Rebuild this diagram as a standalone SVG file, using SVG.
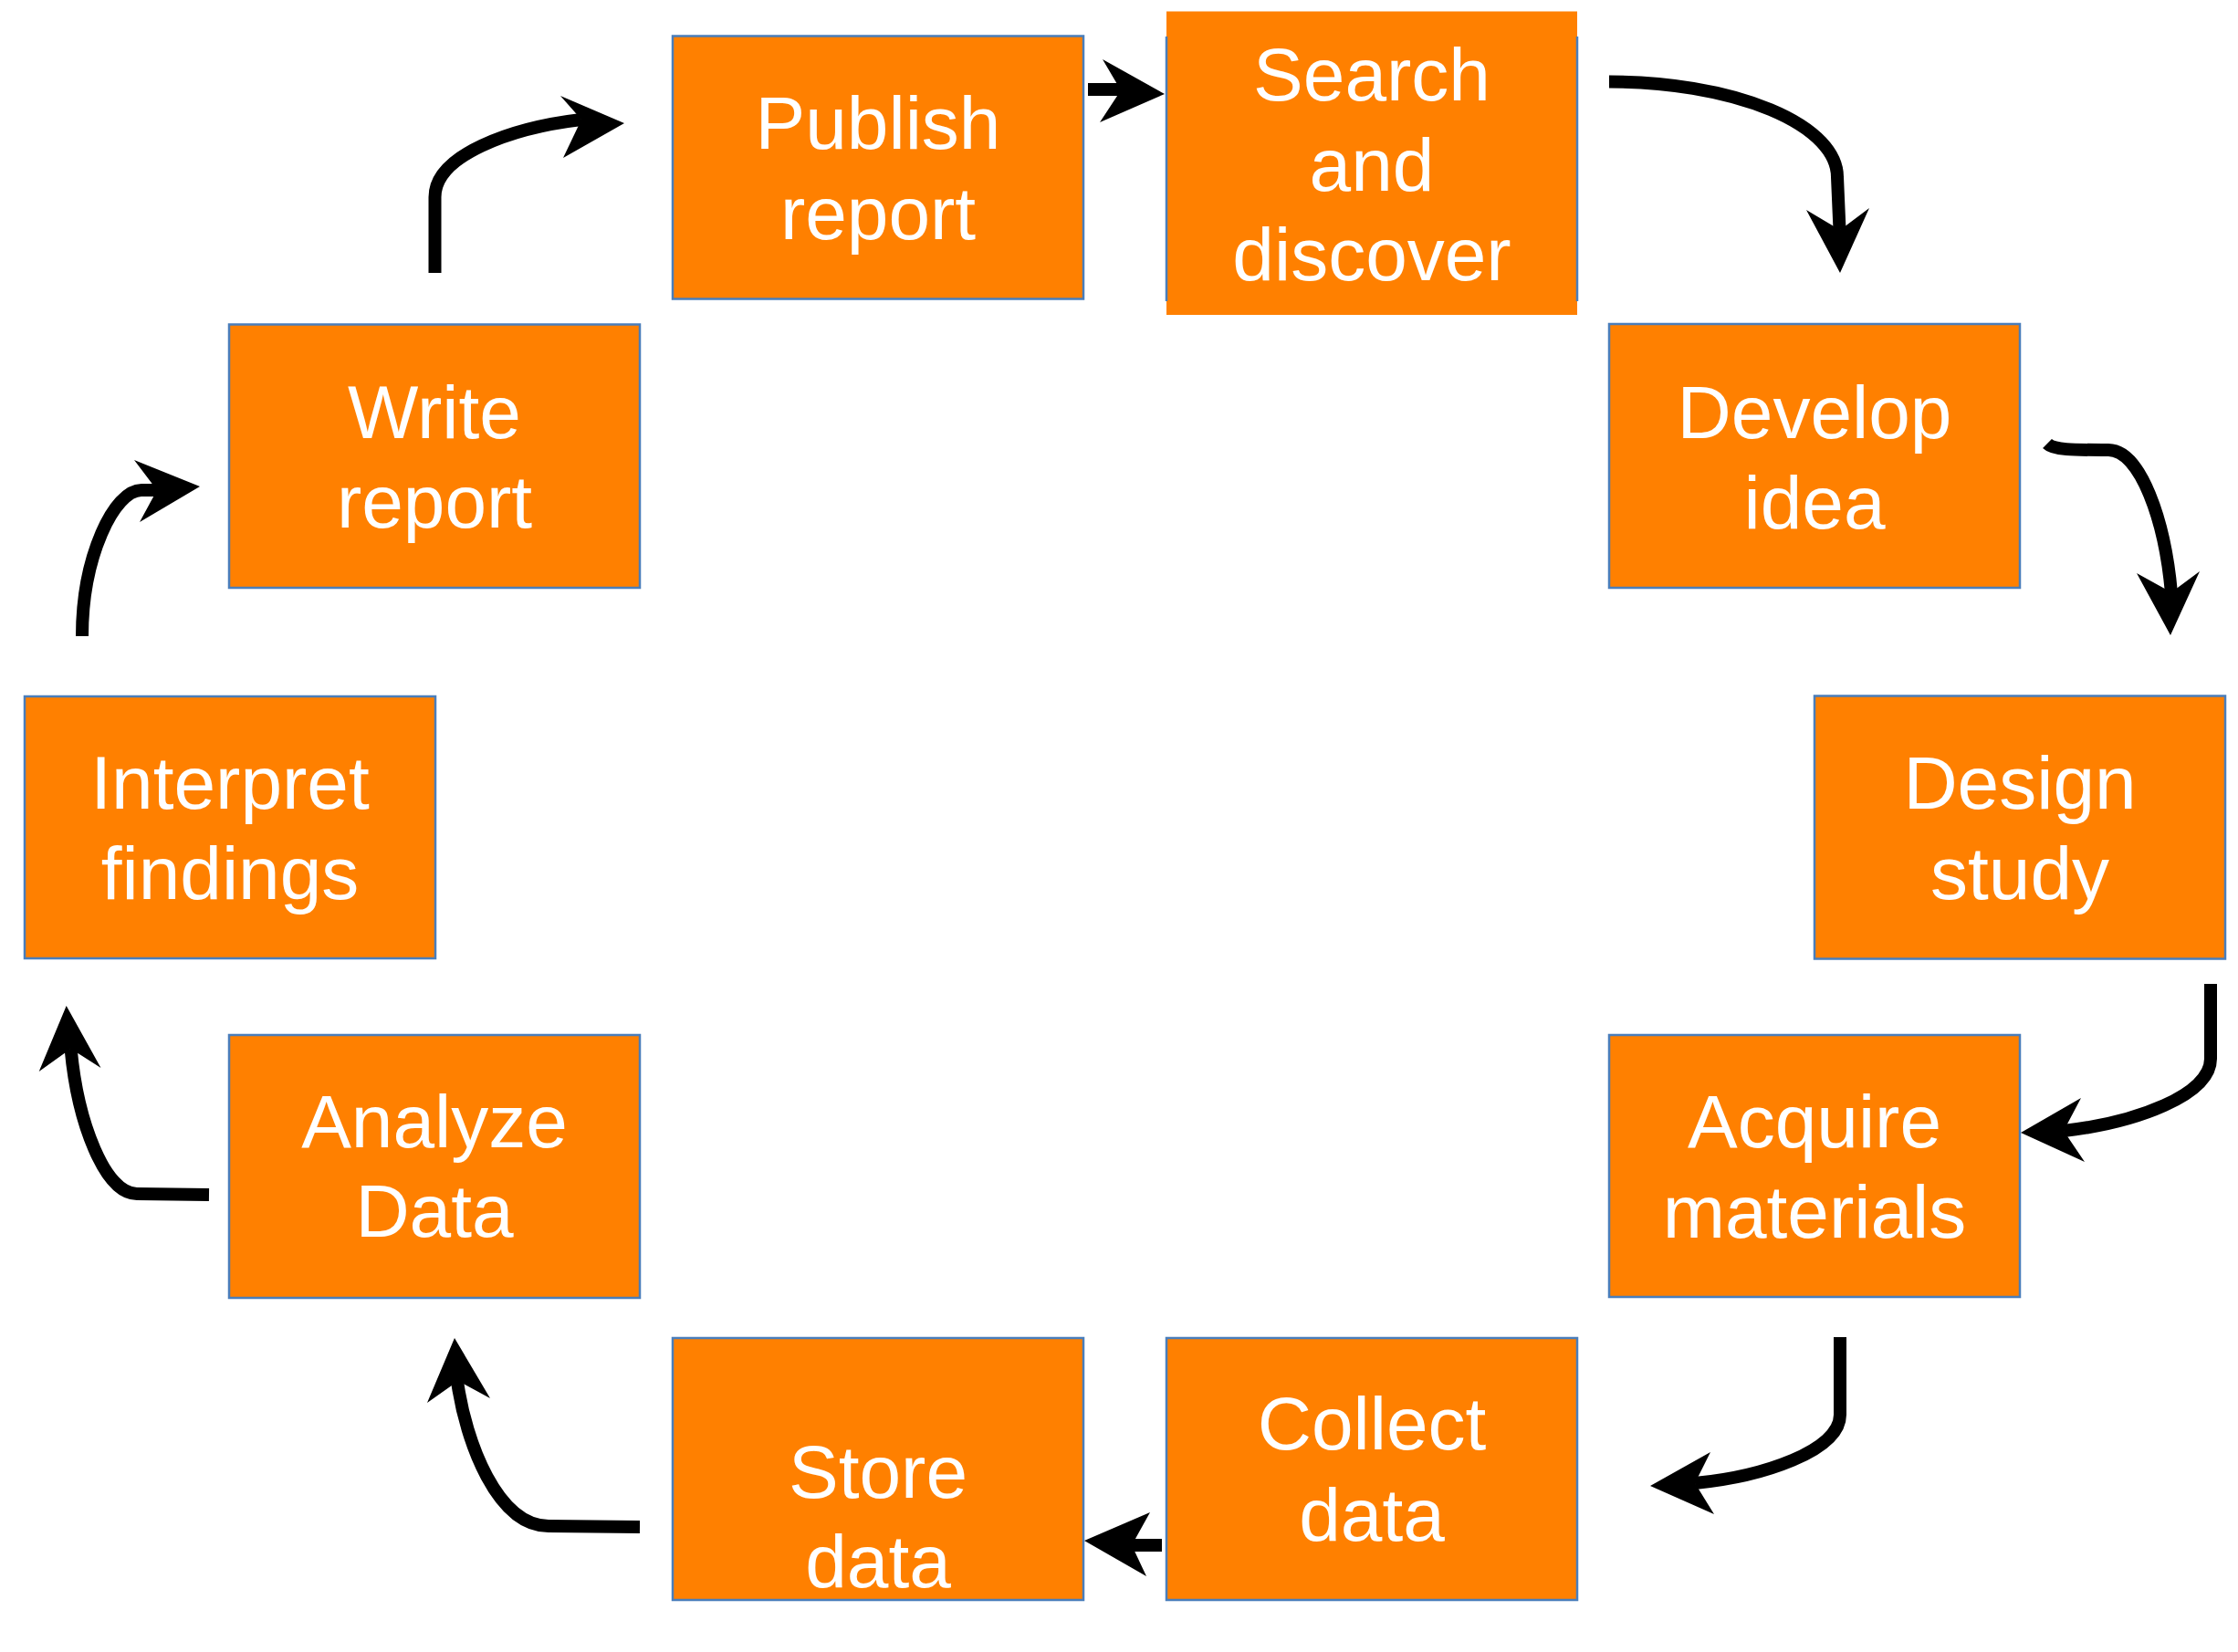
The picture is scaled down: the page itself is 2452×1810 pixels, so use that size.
<svg xmlns="http://www.w3.org/2000/svg" width="2452" height="1810" viewBox="0 0 2452 1810">
<style>
.box{fill:#FF8000;stroke:#4A7EBB;stroke-width:2.5}
.fill{fill:#FF8000}
.edge{stroke:#4A7EBB;stroke-width:2.5}
.lbl{font-family:"Liberation Sans",Arial,Helvetica,sans-serif;font-size:82px;fill:#FFFFFF;text-anchor:middle}
.con{fill:none;stroke:#000;stroke-width:14;stroke-linejoin:round}
.head{fill:#000}
</style>
<rect x="0" y="0" width="2452" height="1810" fill="#FFFFFF"/>
<g id="publish-report">
<rect class="box" x="737" y="39.5" width="450" height="288"/>
<text class="lbl" x="962" y="163">Publish</text>
<text class="lbl" x="962" y="262">report</text>
</g>
<g id="search-and-discover">
<rect class="fill" x="1278" y="12.5" width="450" height="332.5"/>
<line class="edge" x1="1278" y1="40" x2="1278" y2="330"/>
<line class="edge" x1="1728" y1="40" x2="1728" y2="330"/>
<text class="lbl" x="1503" y="110">Search</text>
<text class="lbl" x="1503" y="209">and</text>
<text class="lbl" x="1503" y="307">discover</text>
</g>
<g id="develop-idea">
<rect class="box" x="1763" y="355" width="450" height="289"/>
<text class="lbl" x="1988" y="480">Develop</text>
<text class="lbl" x="1988" y="579">idea</text>
</g>
<g id="design-study">
<rect class="box" x="1988" y="762.5" width="450" height="288"/>
<text class="lbl" x="2213" y="886">Design</text>
<text class="lbl" x="2213" y="985">study</text>
</g>
<g id="acquire-materials">
<rect class="box" x="1763" y="1134" width="450" height="287"/>
<text class="lbl" x="1988" y="1257">Acquire</text>
<text class="lbl" x="1988" y="1356">materials</text>
</g>
<g id="collect-data">
<rect class="box" x="1278" y="1466" width="450" height="287"/>
<text class="lbl" x="1503" y="1588">Collect</text>
<text class="lbl" x="1503" y="1688">data</text>
</g>
<g id="store-data">
<rect class="box" x="737" y="1466" width="450" height="287"/>
<text class="lbl" x="962" y="1641">Store</text>
<text class="lbl" x="962" y="1739">data</text>
</g>
<g id="analyze-data">
<rect class="box" x="251" y="1134" width="450" height="288"/>
<text class="lbl" x="476" y="1257">Analyze</text>
<text class="lbl" x="476" y="1355">Data</text>
</g>
<g id="interpret-findings">
<rect class="box" x="27" y="763" width="450" height="287"/>
<text class="lbl" x="252" y="886">Interpret</text>
<text class="lbl" x="252" y="985">findings</text>
</g>
<g id="write-report">
<rect class="box" x="251" y="355.5" width="450" height="288.5"/>
<text class="lbl" x="476" y="480">Write</text>
<text class="lbl" x="476" y="578">report</text>
</g>
<g id="connectors">
<path class="con" d="M476.5 299 L476.5 216 C476.5 170 560 140 637 131"/>
<polygon class="head" points="684,135 614,105 637,131 617,173"/>
<path class="con" d="M1192 98 L1230 98"/>
<polygon class="head" points="1276,103 1208,65 1228,99 1205,134"/>
<path class="con" d="M1763 89.5 A250 104.5 0 0 1 2013 194 L2015.5 252"/>
<polygon class="head" points="2016,299 1979,230 2016,252 2048,228"/>
<path class="con" d="M2243 486 C2250 493 2270 493 2310 493 C2345 493 2372 570 2379 650"/>
<polygon class="head" points="2378,696 2341,628 2379,649 2410,626"/>
<path class="con" d="M2422 1078 L2422 1160 C2422 1200 2340 1230 2261 1239"/>
<polygon class="head" points="2214,1241 2280,1203 2261,1239 2284,1273"/>
<path class="con" d="M2016 1465 L2016 1550 C2016 1590 1930 1618 1857 1625"/>
<polygon class="head" points="1808,1628 1874,1591 1857,1625 1878,1659"/>
<path class="con" d="M1273 1693 L1240 1693"/>
<polygon class="head" points="1188,1688 1260,1657 1240,1693 1256,1727"/>
<path class="con" d="M701 1673 L601 1672 C545 1672 510 1580 501 1513"/>
<polygon class="head" points="498,1466 468,1537 502,1513 537,1532"/>
<path class="con" d="M229 1309 L150 1308 C115 1308 85 1230 77.6 1149"/>
<polygon class="head" points="72.7,1102 42.7,1174 77.6,1149 110.5,1170"/>
<path class="con" d="M90 697 C90 610 125 537 155 537 L172 537"/>
<polygon class="head" points="219,533 147,504 172,537 153,572"/>
</g>
</svg>
